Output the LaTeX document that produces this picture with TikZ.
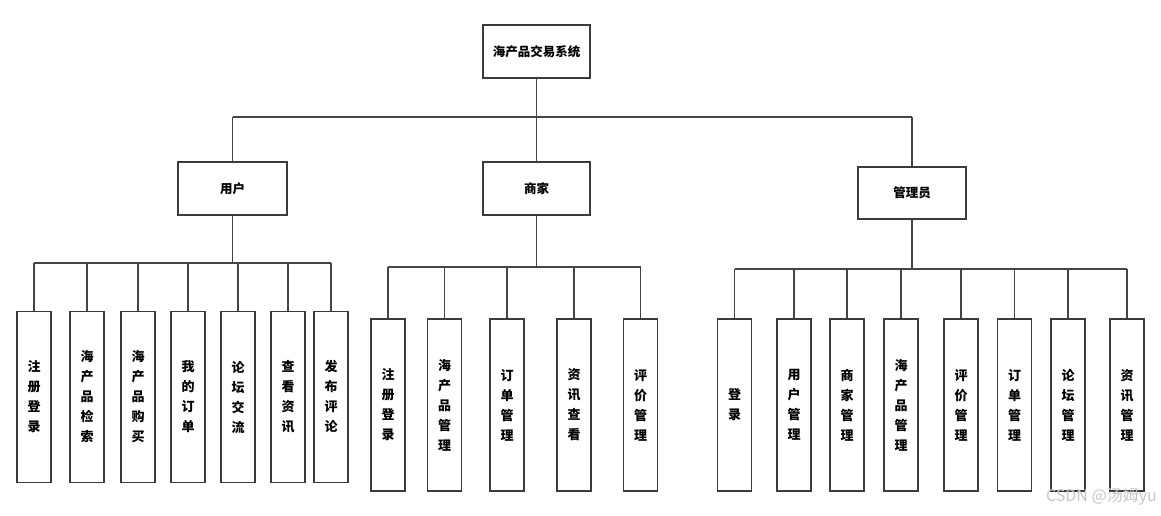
\documentclass[tikz,border=0pt]{standalone}
\usepackage{fontspec}
\newfontfamily\cjk{Noto Sans CJK SC}
\begin{document}
\begin{tikzpicture}[x=1pt,y=-1pt,
  box/.style={draw=boxc, line width=1.8pt, fill=white, inner sep=0pt, align=center,
    font=\cjk\bfseries\fontsize{12.5}{15}\selectfont},
  leaf/.style={box, minimum width=34pt, minimum height=171pt,
    font=\cjk\bfseries\fontsize{13}{20}\selectfont},
  conn/.style={draw=linec, line width=1.4pt}]
\definecolor{boxc}{HTML}{383B3F}
\definecolor{linec}{HTML}{454545}
\fill[white] (0,0) rectangle (1161,516);
\useasboundingbox (0,0) rectangle (1161,516);

% level 1 and 2
\node[box, minimum width=107pt, minimum height=53pt] (root) at (536.5,51.5) {海产品交易系统};
\node[box, minimum width=109pt, minimum height=53pt] (user) at (232.5,188.5) {用户};
\node[box, minimum width=107pt, minimum height=53pt] (shop) at (536.5,188.5) {商家};
\node[box, minimum width=108pt, minimum height=52pt] (admin) at (912,193) {管理员};

% user leaves
\node[leaf] (u1) at (34,397) {注\\册\\登\\录};
\node[leaf] (u2) at (87,397) {海\\产\\品\\检\\索};
\node[leaf] (u3) at (138,397) {海\\产\\品\\购\\买};
\node[leaf] (u4) at (188,397) {我\\的\\订\\单};
\node[leaf] (u5) at (238,397) {论\\坛\\交\\流};
\node[leaf] (u6) at (288,397) {查\\看\\资\\讯};
\node[leaf] (u7) at (331,397) {发\\布\\评\\论};

% shop leaves
\node[leaf, minimum height=172pt] (s1) at (388,405) {注\\册\\登\\录};
\node[leaf, minimum height=172pt] (s2) at (444.5,405) {海\\产\\品\\管\\理};
\node[leaf, minimum height=172pt] (s3) at (507,405) {订\\单\\管\\理};
\node[leaf, minimum height=172pt] (s4) at (574,405) {资\\讯\\查\\看};
\node[leaf, minimum height=172pt] (s5) at (640.5,405) {评\\价\\管\\理};

% admin leaves
\node[leaf, minimum height=172pt] (a1) at (734.5,405) {登\\录};
\node[leaf, minimum height=172pt] (a2) at (794,405) {用\\户\\管\\理};
\node[leaf, minimum height=172pt] (a3) at (847,405) {商\\家\\管\\理};
\node[leaf, minimum height=172pt] (a4) at (901,405) {海\\产\\品\\管\\理};
\node[leaf, minimum height=172pt] (a5) at (961,405) {评\\价\\管\\理};
\node[leaf, minimum height=172pt] (a6) at (1014.5,405) {订\\单\\管\\理};
\node[leaf, minimum height=172pt] (a7) at (1068,405) {论\\坛\\管\\理};
\node[leaf, minimum height=172pt] (a8) at (1127,405) {资\\讯\\管\\理};

% bus coordinates
\coordinate (b0) at (536.5,117);
\coordinate (bu) at (232.5,263);
\coordinate (bs) at (536.5,267);
\coordinate (ba) at (912,269);

% top connectors
\draw[conn] (root.south) -- (b0);
\draw[conn] (user.north |- b0) -- (admin.north |- b0);
\draw[conn] (user.north |- b0) -- (user.north);
\draw[conn] (b0) -- (shop.north);
\draw[conn] (admin.north |- b0) -- (admin.north);

% user connectors
\draw[conn] (user.south) -- (bu);
\draw[conn] (u1.north |- bu) -- (u7.north |- bu);
\foreach \n in {u1,u2,u3,u4,u5,u6,u7} \draw[conn] (\n.north |- bu) -- (\n.north);

% shop connectors
\draw[conn] (shop.south) -- (bs);
\draw[conn] (s1.north |- bs) -- (s5.north |- bs);
\foreach \n in {s1,s2,s3,s4,s5} \draw[conn] (\n.north |- bs) -- (\n.north);

% admin connectors
\draw[conn] (admin.south) -- (ba);
\draw[conn] (a1.north |- ba) -- (a8.north |- ba);
\foreach \n in {a1,a2,a3,a4,a5,a6,a7,a8} \draw[conn] (\n.north |- ba) -- (\n.north);

% watermark
\node[anchor=east, text=black!22, font=\cjk\fontsize{16}{16}\selectfont, inner sep=0pt] (wm) at (1157,497) {CSDN @汤姆yu};
\end{tikzpicture}
\end{document}
